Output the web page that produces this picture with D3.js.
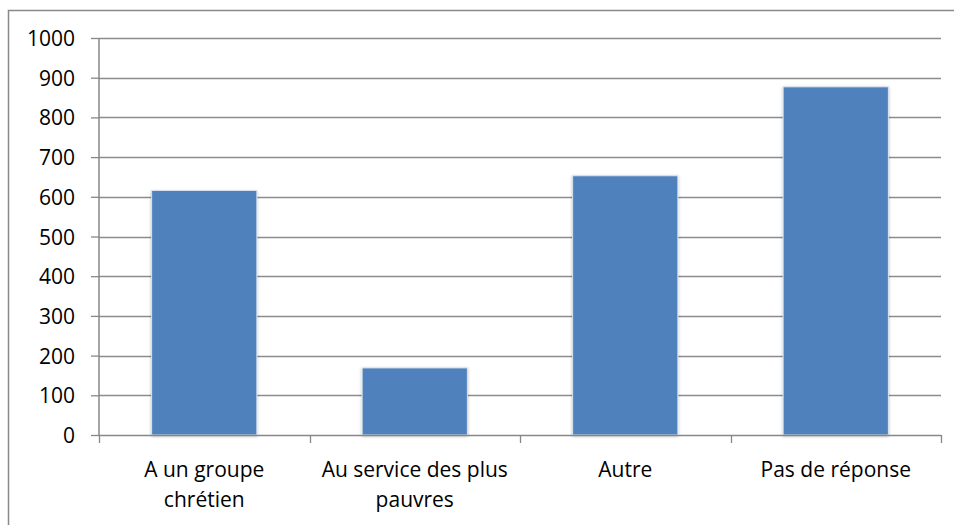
<!DOCTYPE html>
<html>
<head>
<meta charset="utf-8">
<script src="https://cdnjs.cloudflare.com/ajax/libs/d3/7.8.5/d3.min.js"></script>
<style>
  body { margin: 0; background: #fff; }
  svg text { font-family: "Open Sans", "Noto Sans", sans-serif; fill: #000; }
</style>
</head>
<body>
<div id="chart"></div>
<script>
const categories = [["A un groupe", "chrétien"], ["Au service des plus", "pauvres"], ["Autre"], ["Pas de réponse"]];
const values = [616, 169, 653, 877];
const yTicks = [0, 100, 200, 300, 400, 500, 600, 700, 800, 900, 1000];

const w = 954, h = 525;
const plotL = 99, plotR = 941, plotT = 38, plotB = 435;

const svg = d3.select("#chart").append("svg")
  .attr("width", w).attr("height", h);

// outer frame (only left and top visible)
svg.append("path")
  .attr("d", "M8.5," + h + " V10.5 H" + w)
  .attr("fill", "none").attr("stroke", "#898989").attr("stroke-width", 1.5);

const x = d3.scaleBand().domain(d3.range(categories.length)).range([plotL, plotR]).paddingInner(0.5).paddingOuter(0.25);
const xEdges = d3.scaleLinear().domain([0, categories.length]).range([plotL, plotR]);
const y = d3.scaleLinear().domain([0, 1000]).range([plotB, plotT]);

// gridlines
svg.append("g").selectAll("line").data(yTicks.slice(1)).join("line")
  .attr("x1", plotL).attr("x2", plotR)
  .attr("y1", d => Math.round(y(d)) + 0.5).attr("y2", d => Math.round(y(d)) + 0.5)
  .attr("stroke", "#8c8c8c").attr("stroke-width", 1.3);

// shadow filter
const defs = svg.append("defs");
const f = defs.append("filter").attr("id", "sh").attr("x", "-10%").attr("y", "-10%").attr("width", "120%").attr("height", "120%");
f.append("feDropShadow").attr("dx", 0).attr("dy", 1).attr("stdDeviation", 1.5).attr("flood-color", "#000").attr("flood-opacity", 0.25);

svg.append("g").selectAll("rect").data(values).join("rect")
  .attr("x", (d, i) => x(i))
  .attr("y", d => y(d))
  .attr("width", x.bandwidth())
  .attr("height", d => y(0) - y(d))
  .attr("fill", "#4f81bd")
  .attr("stroke", "#dbe4f0").attr("stroke-width", 1)
  .attr("filter", "url(#sh)");

// y axis
const yAxis = svg.append("g").attr("transform", "translate(" + plotL + ",0)")
  .call(d3.axisLeft(y).tickValues(yTicks).tickFormat(d3.format("d")).tickSize(8).tickPadding(16));
yAxis.select(".domain").attr("stroke", "#878787").attr("stroke-width", 1.5).attr("d", "M0," + plotT + "V" + plotB);
yAxis.selectAll(".tick line").attr("stroke", "#878787").attr("stroke-width", 1.3);
yAxis.selectAll("text").attr("font-size", 21).attr("dy", "0.36em");

// x axis
const xAxis = svg.append("g").attr("transform", "translate(0," + plotB + ")");
xAxis.append("line").attr("x1", plotL).attr("x2", plotR).attr("y1", 0.5).attr("y2", 0.5)
  .attr("stroke", "#878787").attr("stroke-width", 1.5);
xAxis.selectAll(".tk").data(d3.range(categories.length + 1)).join("line")
  .attr("x1", d => Math.round(xEdges(d)) + 0.5).attr("x2", d => Math.round(xEdges(d)) + 0.5)
  .attr("y1", 0).attr("y2", 8)
  .attr("stroke", "#878787").attr("stroke-width", 1.3);

const labels = xAxis.selectAll(".lbl").data(categories).join("text")
  .attr("text-anchor", "middle")
  .attr("font-size", 21);
labels.selectAll("tspan").data((d, i) => d.map(t => ({ t, i }))).join("tspan")
  .attr("x", d => x(d.i) + x.bandwidth() / 2)
  .attr("y", (d, j) => 42 + j * 30)
  .text(d => d.t);
</script>
</body>
</html>
